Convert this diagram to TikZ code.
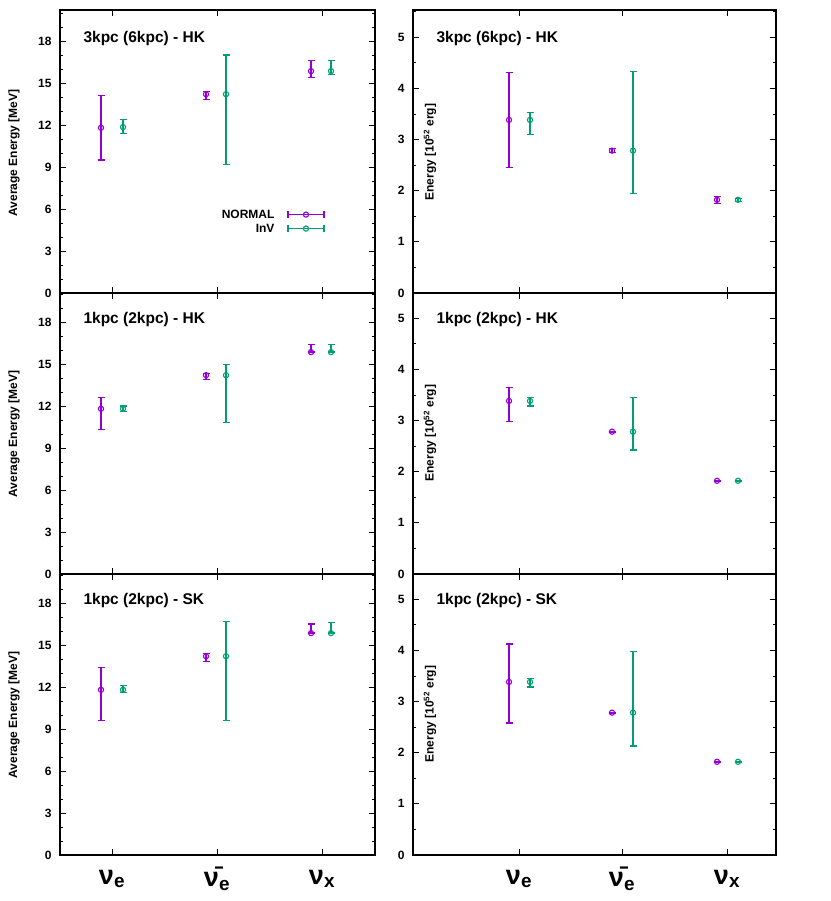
\documentclass[tikz,border=0pt]{standalone}
\usepackage{fontspec}
\setmainfont{Liberation Sans}
\definecolor{cN}{HTML}{9400D3}
\definecolor{cI}{HTML}{009E73}
\newcommand\eb[5]{\draw[#5,line width=1.2pt] (#1,#3)--(#1,#4) (#1-3.5,#3)--(#1+3.5,#3) (#1-3.5,#4)--(#1+3.5,#4);
 \draw[#5,line width=1.1pt] (#1,#2) circle (2.6pt);}
\tikzset{frame/.style={line width=1.3pt},lab/.style={font=\bfseries\fontsize{12}{13}\selectfont},ttl/.style={font=\bfseries\fontsize{15.5}{17}\selectfont,anchor=west}}
\begin{document}
\begin{tikzpicture}[x=1pt,y=1pt]
\useasboundingbox[fill=white] (0,0) rectangle (830,901);
\foreach \b/\t/\ttxt in {608/283/3kpc (6kpc) - HK,327/281/1kpc (2kpc) - HK,46/281/1kpc (2kpc) - SK}{
 \begin{scope}[shift={(0,\b)},y=14pt]
  \draw[frame] (60,0) rectangle (375,\t pt);
  \foreach \v in {0,3,...,18}{\draw[line width=0.6pt] (60,\v)--++(6,0) (375,\v)--++(-6,0); \node[lab,anchor=east] at (55,\v) {\v};}
  \foreach \v in {1,2,4,5,7,8,10,11,13,14,16,17,19,20}{\draw[line width=0.5pt] (60,\v)--++(3,0) (375,\v)--++(-3,0);}
  \foreach \xx in {112,217,322}{\draw[line width=0.6pt] (\xx,0)--++(0,6pt) (\xx,\t pt)--++(0,-6pt);}
  \node[lab,rotate=90] at (14,10) {Average Energy [MeV]};
  \node[ttl] at (80,18.2) {\ttxt};
 \end{scope}
 \begin{scope}[shift={(0,\b)},y=51.2pt]
  \draw[frame] (413,0) rectangle (776,\t pt);
  \foreach \v in {0,...,5}{\draw[line width=0.6pt] (413,\v)--++(6,0) (776,\v)--++(-6,0); \node[lab,anchor=east] at (408,\v) {\v};}
  \foreach \v in {0.5,1.5,2.5,3.5,4.5,5.5}{\draw[line width=0.5pt] (413,\v)--++(3,0) (776,\v)--++(-3,0);}
  \foreach \xx in {519,622,727}{\draw[line width=0.6pt] (\xx,0)--++(0,6pt) (\xx,\t pt)--++(0,-6pt);}
  \node[lab,rotate=90] at (430,2.75) {Energy [10\textsuperscript{52} erg]};
  \node[ttl] at (433,4.98) {\ttxt};
 \end{scope}
}
\begin{scope}[shift={(0,608)},y=14pt]
 \eb{101}{11.8}{9.5}{14.1}{cN}\eb{123}{11.85}{11.4}{12.4}{cI}
 \eb{206}{14.2}{13.8}{14.4}{cN}\eb{226}{14.2}{9.2}{17.0}{cI}
 \eb{311}{15.85}{15.4}{16.6}{cN}\eb{331}{15.85}{15.6}{16.6}{cI}
 \node[lab,anchor=east] at (278,5.6) {NORMAL};
 \node[lab,anchor=east] at (278,4.6) {InV};
 \draw[cN,line width=1.2pt] (288,5.6)--(324,5.6) (288,5.35)--(288,5.85) (324,5.35)--(324,5.85); \draw[cN,line width=1.1pt] (306,5.6) circle (2.6pt);
 \draw[cI,line width=1.2pt] (288,4.6)--(324,4.6) (288,4.35)--(288,4.85) (324,4.35)--(324,4.85); \draw[cI,line width=1.1pt] (306,4.6) circle (2.6pt);
\end{scope}
\begin{scope}[shift={(0,608)},y=51.2pt]
 \eb{509}{3.38}{2.45}{4.3}{cN}\eb{530}{3.38}{3.1}{3.53}{cI}
 \eb{612}{2.78}{2.74}{2.82}{cN}\eb{633}{2.78}{1.95}{4.33}{cI}
 \eb{717}{1.82}{1.75}{1.88}{cN}\eb{738}{1.82}{1.79}{1.85}{cI}
\end{scope}
\begin{scope}[shift={(0,327)},y=14pt]
 \eb{101}{11.8}{10.3}{12.6}{cN}\eb{123}{11.8}{11.6}{12.0}{cI}
 \eb{206}{14.2}{13.9}{14.3}{cN}\eb{226}{14.2}{10.8}{14.95}{cI}
 \eb{311}{15.85}{15.85}{16.4}{cN}\eb{331}{15.85}{15.85}{16.4}{cI}
\end{scope}
\begin{scope}[shift={(0,327)},y=51.2pt]
 \eb{509}{3.38}{2.98}{3.65}{cN}\eb{530}{3.38}{3.28}{3.45}{cI}
 \eb{612}{2.78}{2.77}{2.79}{cN}\eb{633}{2.78}{2.42}{3.45}{cI}
 \eb{717}{1.82}{1.81}{1.83}{cN}\eb{738}{1.82}{1.81}{1.83}{cI}
\end{scope}
\begin{scope}[shift={(0,46)},y=14pt]
 \eb{101}{11.8}{9.6}{13.4}{cN}\eb{123}{11.8}{11.6}{12.1}{cI}
 \eb{206}{14.2}{13.8}{14.4}{cN}\eb{226}{14.2}{9.6}{16.7}{cI}
 \eb{311}{15.85}{15.85}{16.5}{cN}\eb{331}{15.85}{15.85}{16.6}{cI}
\end{scope}
\begin{scope}[shift={(0,46)},y=51.2pt]
 \eb{509}{3.38}{2.58}{4.12}{cN}\eb{530}{3.38}{3.28}{3.45}{cI}
 \eb{612}{2.78}{2.77}{2.79}{cN}\eb{633}{2.78}{2.13}{3.98}{cI}
 \eb{717}{1.82}{1.81}{1.83}{cN}\eb{738}{1.82}{1.81}{1.83}{cI}
\end{scope}
\foreach \xx/\s in {112/{ν\textsubscript{e}},217/{ν̄\textsubscript{e}},322/{ν\textsubscript{x}},519/{ν\textsubscript{e}},622/{ν̄\textsubscript{e}},727/{ν\textsubscript{x}}}{
 \node[font=\bfseries\fontsize{27}{29}\selectfont] at (\xx,22) {\s};}
\end{tikzpicture}
\end{document}
